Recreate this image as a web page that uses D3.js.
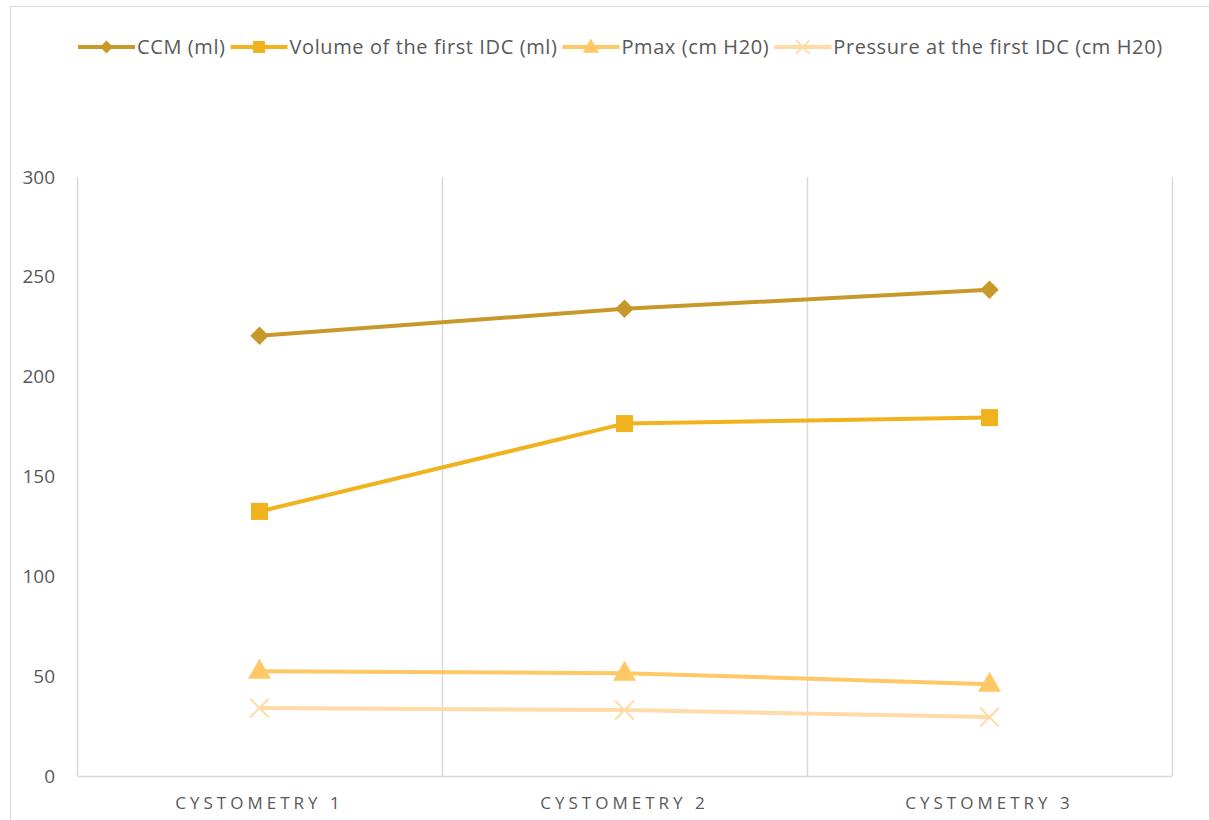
<!DOCTYPE html>
<html>
<head>
<meta charset="utf-8">
<script src="https://cdn.jsdelivr.net/npm/d3@7"></script>
<style>
  body { margin: 0; background: #fff; }
  text { font-family: "Open Sans", "Noto Sans", sans-serif; fill: #595959; }
</style>
</head>
<body>
<script>
var categories = ["Cystometry 1", "Cystometry 2", "Cystometry 3"];
var seriesNames = ["CCM (ml)", "Volume of the first IDC (ml)", "Pmax (cm H20)", "Pressure at the first IDC (cm H20)"];
var ccm = [220.5, 234, 243.5];
var volumeIdc = [132.5, 176.5, 179.5];
var pmax = [52.5, 51.5, 46];
var pressureIdc = [34, 33, 29.5];
var yTicks = [0, 50, 100, 150, 200, 250, 300];

var colors = ["#C9982B", "#F0B31E", "#FFC866", "#FFDBA8"];
var symbols = ["diamond", "square", "triangle", "cross"];
var series = [ccm, volumeIdc, pmax, pressureIdc].map(function (v, i) {
    return { name: seriesNames[i], values: v, color: colors[i], symbol: symbols[i] };
});

var W = 1209, H = 820;
var margin = { top: 177, right: 37, bottom: 44, left: 77 };
var width = W - margin.left - margin.right;
var height = H - margin.top - margin.bottom;

var svg = d3.select("body").append("svg")
    .attr("width", W)
    .attr("height", H);

// outer chart border
svg.append("rect")
    .attr("x", 10.5).attr("y", 6.5)
    .attr("width", W).attr("height", H)
    .attr("fill", "none")
    .attr("stroke", "#d9d9d9");

var g = svg.append("g")
    .attr("transform", "translate(" + margin.left + "," + margin.top + ")");

var x = d3.scaleBand().domain(categories).range([0, width]);
var y = d3.scaleLinear().domain([0, 300]).range([height, 0]);

// vertical gridlines at band edges
var edges = categories.map(function (c) { return x(c); }).concat([width]);
g.selectAll(".vgrid").data(edges).enter().append("line")
    .attr("x1", function (d) { return Math.round(d) + 0.5; })
    .attr("x2", function (d) { return Math.round(d) + 0.5; })
    .attr("y1", 0).attr("y2", height)
    .attr("stroke", "#d9d9d9").attr("stroke-width", 1.5);

// bottom axis
var xAxis = g.append("g")
    .attr("transform", "translate(0," + height + ")")
    .call(d3.axisBottom(x).tickSize(0).tickPadding(21).tickFormat(function (d) { return d.toUpperCase(); }));
xAxis.select(".domain").attr("stroke", "#d9d9d9").attr("stroke-width", 1.5);
xAxis.selectAll("text")
    .style("font-size", "17px")
    .style("letter-spacing", "4px")
    .style("fill", "#595959");

// left axis (labels only)
var yAxis = g.append("g")
    .call(d3.axisLeft(y).tickValues(yTicks).tickSize(0).tickPadding(22));
yAxis.select(".domain").remove();
yAxis.selectAll("text")
    .style("font-size", "19px")
    .style("fill", "#595959");

var line = d3.line()
    .x(function (d, i) { return x(categories[i]) + x.bandwidth() / 2; })
    .y(function (d) { return y(d); });

function drawMarker(sel, s, size) {
    if (s.symbol === "cross") {
        var r = size * 0.55;
        sel.append("path")
            .attr("d", "M" + (-r) + "," + (-r) + "L" + r + "," + r + "M" + (-r) + "," + r + "L" + r + "," + (-r))
            .attr("stroke", s.color).attr("stroke-width", 2).attr("fill", "none");
        return;
    }
    var type = s.symbol === "diamond" ? d3.symbolDiamond2 : s.symbol === "square" ? d3.symbolSquare : d3.symbolTriangle;
    var area = s.symbol === "diamond" ? size * size * 0.75 : s.symbol === "square" ? size * size : size * size * 0.8;
    sel.append("path")
        .attr("d", d3.symbol().type(type).size(area)())
        .attr("transform", s.symbol === "triangle" ? "translate(0,1)" : null)
        .attr("fill", s.color);
}

series.forEach(function (s) {
    g.append("path")
        .datum(s.values)
        .attr("d", line)
        .attr("fill", "none")
        .attr("stroke", s.color)
        .attr("stroke-width", 4)
        .attr("stroke-linejoin", "round");
    s.values.forEach(function (v, i) {
        var m = g.append("g")
            .attr("transform", "translate(" + (x(categories[i]) + x.bandwidth() / 2) + "," + y(v) + ")");
        drawMarker(m, s, 17);
    });
});

// legend
var legend = svg.append("g").attr("transform", "translate(0,47)");
var items = legend.selectAll(".item").data(series).enter().append("g").attr("class", "item");
items.each(function (s) {
    var it = d3.select(this);
    it.append("line").attr("x1", 0).attr("x2", 57).attr("y1", 0).attr("y2", 0)
        .attr("stroke", s.color).attr("stroke-width", 4);
    var m = it.append("g").attr("transform", "translate(28.5,0)");
    drawMarker(m, s, 12);
    it.append("text").attr("x", 59).attr("y", 0).attr("dy", "0.35em")
        .style("font-size", "20px").style("letter-spacing", "0.6px").text(s.name);
});
var widths = [];
items.each(function () { widths.push(this.getBBox().width); });
var gap = 5;
items.attr("transform", function (d, i) {
    var tx = 78 + d3.sum(widths.slice(0, i)) + gap * i;
    return "translate(" + tx + ",0)";
});
</script>
</body>
</html>
